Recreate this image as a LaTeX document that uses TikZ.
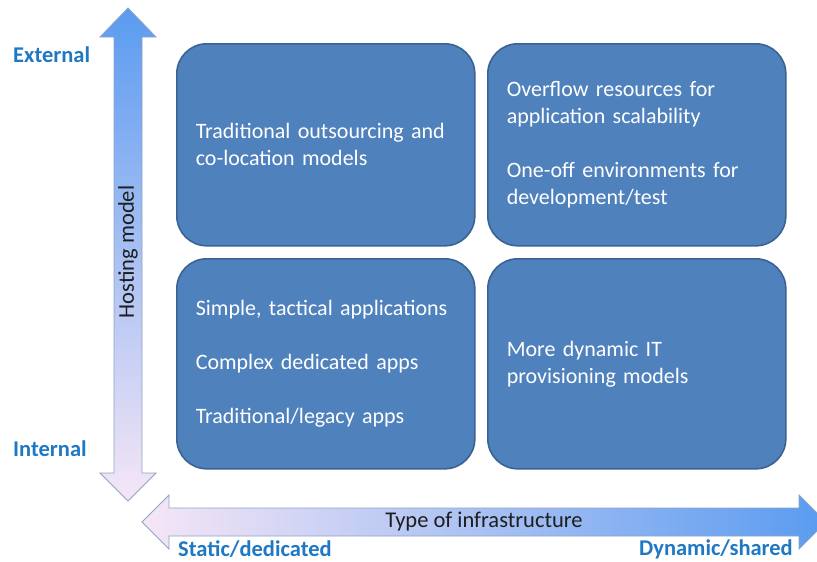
\documentclass[tikz,border=0pt]{standalone}
\usepackage{fontspec}
\setmainfont{Carlito}
\definecolor{boxfill}{HTML}{4F81BD}
\definecolor{boxedge}{HTML}{3A6394}
\definecolor{labelblue}{HTML}{1F78C3}
\definecolor{titlegray}{HTML}{1E1E1E}
\definecolor{arrowblue}{HTML}{5A9BF0}
\definecolor{arrowmid}{HTML}{A9C3EA}
\definecolor{arrowpink}{HTML}{F6E6F6}
\definecolor{arrowedge}{HTML}{8FA3C4}
% quadrant text: slightly tighter word spacing
\newcommand{\quadtextfont}{\fontsize{22}{27}\selectfont\spaceskip=3.8pt plus 1pt minus 0.5pt\relax}
\begin{document}
\begin{tikzpicture}[x=1pt,y=-1pt,
  quad/.style={draw=boxedge, line width=1.6pt, fill=boxfill, rounded corners=30pt,
    text=white, align=left, text width=260pt, inner xsep=19pt, inner ysep=0pt,
    font=\quadtextfont, anchor=north west},
  axislabel/.style={font=\bfseries\fontsize{22.5}{25}\selectfont, text=labelblue, inner sep=0pt},
  axistitle/.style={font=\fontsize{22.5}{25}\selectfont, text=titlegray, inner sep=0pt},
  arrowline/.style={draw=arrowedge, line width=0.8pt}]
\useasboundingbox (0,0) rectangle (817,562);

% vertical double arrow: hosting model
\shadedraw[arrowline, top color=arrowblue, middle color=arrowmid, bottom color=arrowpink]
  (128,8) -- (156,37) -- (142,37) -- (142,473) -- (156,473) -- (128,501)
  -- (100,473) -- (114,473) -- (114,37) -- (100,37) -- cycle;

% horizontal double arrow: type of infrastructure
\shadedraw[arrowline, left color=arrowpink, middle color=arrowmid, right color=arrowblue]
  (142,522) -- (169,495) -- (169,508) -- (799,508) -- (799,495) -- (826,522)
  -- (799,549) -- (799,536) -- (169,536) -- (169,549) -- cycle;

% quadrants
\node[quad, minimum height=202pt] (tl) at (176,43)
  {Traditional outsourcing and\\co-location models};
\node[quad, minimum height=202pt] (tr) at (487,43)
  {Overflow resources for\\application scalability\\[27pt]One-off environments for\\development/test};
\node[quad, minimum height=210pt] (bl) at (176,258)
  {Simple, tactical applications\\[27pt]Complex dedicated apps\\[27pt]Traditional/legacy apps};
\node[quad, minimum height=210pt] (br) at (487,258)
  {More dynamic IT\\provisioning models};

% axis titles and end labels
\node[axistitle, rotate=90] (host) at (128,252) {Hosting model};
\node[axistitle] (infra) at (484,522) {Type of infrastructure};
\node[axislabel, anchor=west] (ext) at (13,55) {External};
\node[axislabel, anchor=west] (int) at (13,449) {Internal};
\node[axislabel, anchor=west] (static) at (178,549) {Static/dedicated};
\node[axislabel, anchor=east] (dyn) at (793,549) {Dynamic/shared};
\end{tikzpicture}
\end{document}
